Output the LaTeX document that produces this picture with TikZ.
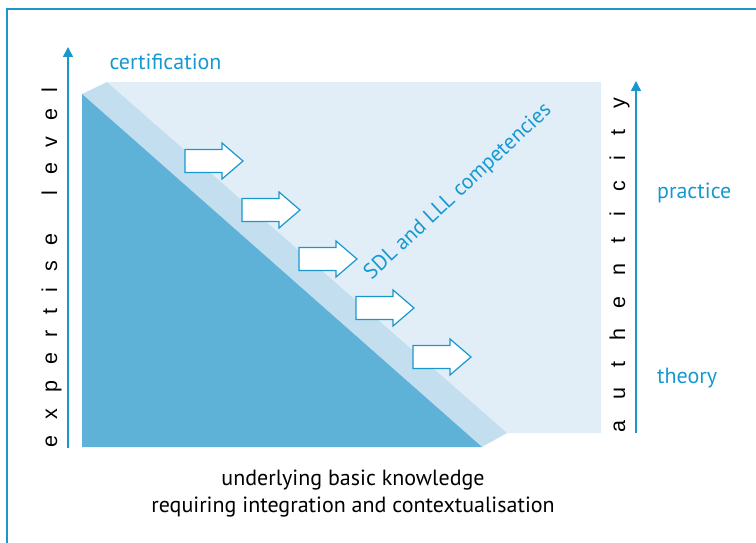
\documentclass[tikz,border=0pt]{standalone}
\usepackage{fontspec}
\setmainfont{PT Sans}
\newfontfamily\axfont{Liberation Sans}
\usetikzlibrary{arrows.meta}
\definecolor{lineblue}{RGB}{26,152,206}
\definecolor{textblue}{RGB}{22,153,210}
\definecolor{darkfill}{RGB}{94,178,216}
\definecolor{bandfill}{RGB}{195,222,238}
\definecolor{lightfill}{RGB}{226,238,247}
\tikzset{
  blockarrow/.style={draw=lineblue, fill=white, line width=1.2pt, line join=miter},
  axisline/.style={draw=lineblue, line width=1.4pt, -{Triangle[length=10pt,width=10pt]}},
  bluelabel/.style={text=textblue, font=\fontsize{22}{26}\selectfont, inner sep=0pt},
  blacklabel/.style={text=black, font=\fontsize{22}{30}\selectfont, inner sep=0pt, align=center},
  axislabel/.style={text=black, font=\axfont\fontsize{21.5}{24}\selectfont, inner sep=0pt, rotate=90, anchor=base}
}
\begin{document}
\begin{tikzpicture}[x=1pt,y=-1pt]
\useasboundingbox (0,0) rectangle (756,543);
% frame
\coordinate (fbl) at (7,543);
\coordinate (ftl) at (7,9);
\coordinate (ftr) at (756,9);
\draw[lineblue, line width=1.4pt] (fbl) -- (ftl) -- (ftr);
% regions
\fill[lightfill] (107,82) -- (601,82) -- (601,433) -- (507,433) -- cycle;
\fill[bandfill] (82,94) -- (107,82) -- (507,433) -- (482,447) -- cycle;
\fill[darkfill] (82,94) -- (82,447) -- (482,447) -- cycle;
% block arrows
\foreach \i in {0,...,4}{
  \begin{scope}[shift={(185+57*\i,161+49*\i)}]
    \draw[blockarrow] (0,-11.5) -- (37,-11.5) -- (37,-18) -- (58,0) -- (37,18) -- (37,11.5) -- (0,11.5) -- cycle;
  \end{scope}
}
% axes
\coordinate (la0) at (68,448);
\coordinate (la1) at (68,47);
\draw[axisline] (la0) -- (la1);
\coordinate (ra0) at (636,433);
\coordinate (ra1) at (636,81);
\draw[axisline] (ra0) -- (ra1);
% axis labels
\node[axislabel] (explev) at (57,267.5) {\hbox to 359pt{e\hfil x\hfil p\hfil e\hfil r\hfil t\hfil i\hfil s\hfil e\hfil\ \hfil l\hfil e\hfil v\hfil e\hfil l}};
\node[axislabel] (auth) at (625,265) {\hbox to 334pt{a\hfil u\hfil t\hfil h\hfil e\hfil n\hfil t\hfil i\hfil c\hfil i\hfil t\hfil y}};
% blue labels
\node[bluelabel, anchor=base] (cert) at (165.5,70) {certification};
\node[bluelabel, anchor=base west] (prac) at (657,198) {practice};
\node[bluelabel, anchor=base west] (theo) at (657,383) {theory};
\node[bluelabel, rotate=43, anchor=base, font=\fontsize{21.5}{26}\selectfont] (sdl) at (462,196) {SDL and LLL competencies};
% bottom text
\node[blacklabel, anchor=base] (base1) at (353,485) {underlying basic knowledge};
\node[blacklabel, anchor=base] (base2) at (353,512) {requiring integration and contextualisation};
\end{tikzpicture}
\end{document}
